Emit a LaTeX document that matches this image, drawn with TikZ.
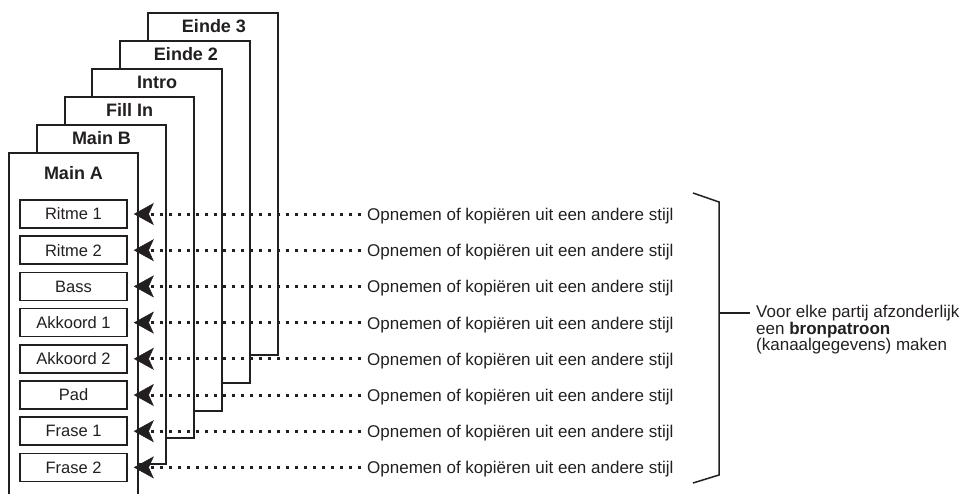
\documentclass[tikz,border=0pt]{standalone}
\usepackage{fontspec}
\setmainfont{Liberation Sans}
\usetikzlibrary{arrows.meta}
\definecolor{ink}{HTML}{231F20}
\begin{document}
\begin{tikzpicture}[x=1pt,y=-1pt,
  frame/.style={draw=ink,line width=2.8pt,fill=white},
  part/.style={draw=ink,line width=1.6pt,fill=white,minimum width=107pt,minimum height=28pt,inner sep=0pt,font=\fontsize{16.5}{18}\selectfont,text=ink},
  flabel/.style={font=\fontsize{18}{20}\selectfont\bfseries,inner sep=0pt,text=ink},
  rowtext/.style={anchor=base west,inner sep=0pt,font=\fontsize{17}{19}\selectfont,text=ink},
  feed/.style={draw=ink,line width=3pt,dash pattern=on 3pt off 6pt,-{Stealth[length=20pt,width=22pt,inset=5pt,line width=0.5pt]}},
  brace/.style={draw=ink,line width=1.5pt}
]
\useasboundingbox (0,0) rectangle (971,493);
% stacked section frames, back to front
\path[frame] (148,13) rectangle (278,355);
\path[frame] (120,41) rectangle (250,383);
\path[frame] (92,69) rectangle (222,411);
\path[frame] (65,97) rectangle (194,438);
\path[frame] (37,125) rectangle (166,464);
\filldraw[frame] (9,505) -- (9,153) -- (138,153) -- (138,505);
% frame labels
\node[flabel] (l6) at (214,26) {Einde 3};
\node[flabel] (l5) at (186,54) {Einde 2};
\node[flabel] (l4) at (157,82) {Intro};
\node[flabel] (l3) at (129.5,110) {Fill In};
\node[flabel] (l2) at (101.5,138) {Main B};
\node[flabel] (l1) at (73.5,173) {Main A};
% parts and feeds
\foreach \i/\y/\t in {1/214/Ritme 1,2/250.2/Ritme 2,3/286.4/Bass,4/322.6/Akkoord 1,5/358.8/Akkoord 2,6/395/Pad,7/431.2/Frase 1,8/467.4/Frase 2}{
  \node[part] (p\i) at (73.5,\y) {\t};
  \node[rowtext] (r\i) at (367,\y+6.5) {Opnemen of kopiëren uit een andere stijl};
  \draw[feed] ([xshift=-6pt]r\i.west |- p\i.east) -- ([xshift=6pt]p\i.east);
}
% brace and note
\draw[brace] (693,193) -- (719,202) -- (719,475) -- (693,483);
\coordinate (bk) at (719,313);
\node[anchor=west,inner sep=0pt,align=left,font=\fontsize{17}{14}\selectfont,text=ink] (note) at (756,329.6)
  {Voor elke partij afzonderlijk\\een \textbf{bronpatroon}\\(kanaalgegevens) maken};
\draw[brace] (bk) -- ([xshift=-6pt]note.west |- bk);
\end{tikzpicture}
\end{document}
